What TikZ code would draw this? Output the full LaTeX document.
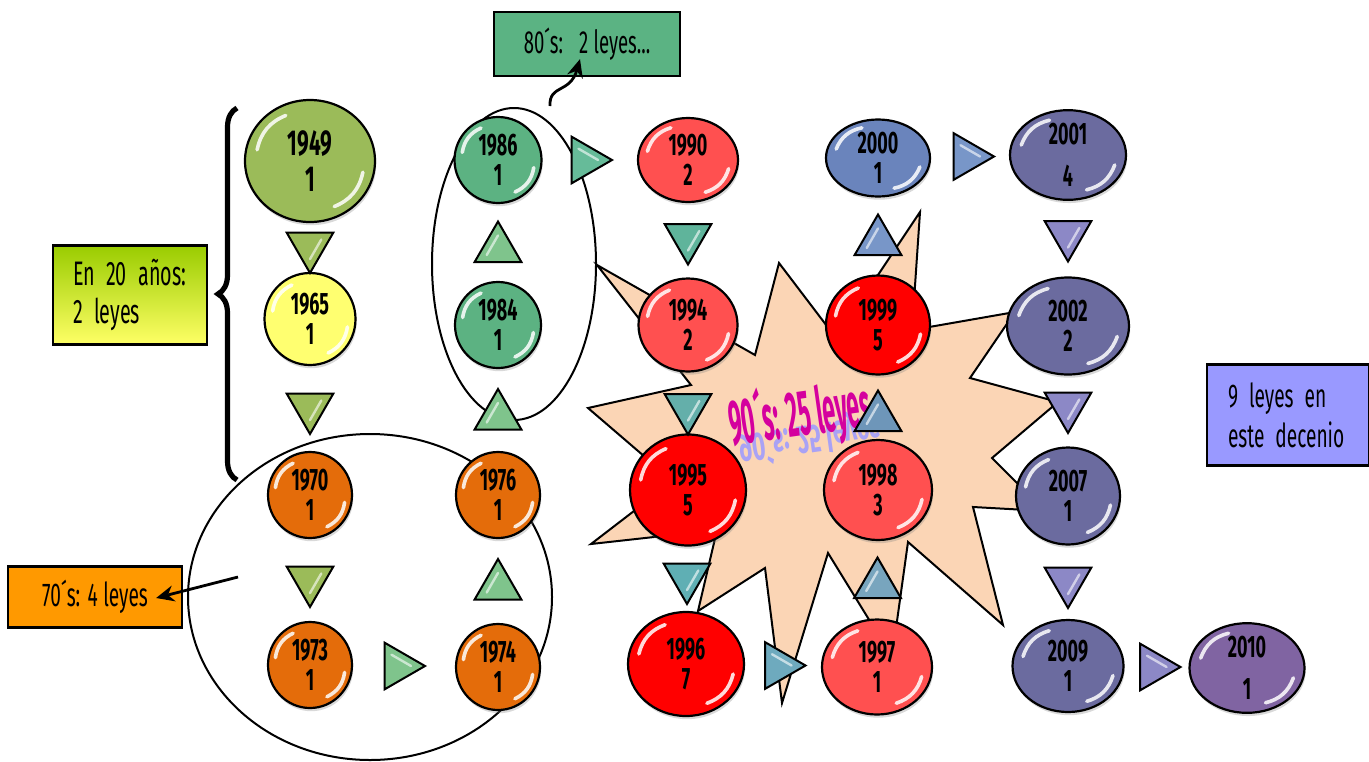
\documentclass[tikz,border=0pt]{standalone}
\usepackage{fontspec}
\usepackage{graphicx}
\setmainfont{Fira Sans}
\newfontfamily\agb[FakeStretch=0.58, WordSpace=0.75]{Fira Sans}
\newfontfamily\agr[FakeStretch=0.58, WordSpace=1.1]{Fira Sans}
\usetikzlibrary{shapes.geometric,shadows,calc,decorations.pathreplacing,arrows.meta}

\definecolor{cOlive}{HTML}{9BBB59}
\definecolor{cYellow}{HTML}{FFFF70}
\definecolor{cOrange}{HTML}{E46C0A}
\definecolor{cGreen}{HTML}{5CB282}
\definecolor{cRedL}{HTML}{FF5050}
\definecolor{cRed}{HTML}{FF0000}
\definecolor{cBlue}{HTML}{6A84BC}
\definecolor{cSlate}{HTML}{6B6B9F}
\definecolor{cPurple}{HTML}{8064A2}
\definecolor{tA}{HTML}{9BBB59}
\definecolor{tB}{HTML}{7FC48C}
\definecolor{tC}{HTML}{66BB99}
\definecolor{tD}{HTML}{5FB49B}
\definecolor{tE}{HTML}{64AFAA}
\definecolor{tF}{HTML}{5FAFB4}
\definecolor{tG}{HTML}{6EAABE}
\definecolor{tH}{HTML}{78A5BE}
\definecolor{tI}{HTML}{6E96B9}
\definecolor{tJ}{HTML}{7896C8}
\definecolor{tK}{HTML}{8C88C6}
\definecolor{bx80}{HTML}{5BB383}
\definecolor{bx70}{HTML}{FF9900}
\definecolor{bx9}{HTML}{9999FF}
\definecolor{bxTop}{HTML}{99CC00}
\definecolor{bxBot}{HTML}{FFFF66}
\definecolor{cStar}{HTML}{FBD5B5}
\definecolor{c90}{HTML}{D4009E}
\definecolor{c90r}{HTML}{A9A2F5}

\tikzset{
  ball/.style={ellipse, draw=black, line width=1.1pt, fill=#1, inner sep=0pt,
    align=center, font=\agb\bfseries\fontsize{15.5}{15}\selectfont,
    drop shadow={opacity=0.3, shadow xshift=0.6pt, shadow yshift=-1.6pt}},
  gloss/.style={white, line width=1.8pt, line cap=round, opacity=0.85},
  tgloss/.style={white, line width=1.2pt, line cap=round, opacity=0.6},
  tri/.style={regular polygon, regular polygon sides=3, draw=black, line width=1pt,
    fill=#1, minimum size=27pt, inner sep=0pt},
  tdown/.style={tri=#1, shape border rotate=180},
  tup/.style={tri=#1},
  tright/.style={tri=#1, shape border rotate=-90},
  lbox/.style={draw=black, line width=1.1pt, inner sep=0pt,
    font=\agr\fontsize{16.5}{20}\selectfont},
  pointer/.style={-{Stealth[length=9pt,width=8pt]}, line width=1.4pt},
}

\begin{document}
\begin{tikzpicture}[x=0.5pt,y=0.5pt]
\useasboundingbox (0,0) rectangle (1369,-761);

% explosion shape
\draw[fill=cStar, line width=1pt, line join=miter]
  (597,-265) -- (755,-355) -- (779,-263) -- (836,-338) -- (920,-212) -- (912,-330)
  -- (1015,-312) -- (970,-378) -- (1058,-402) -- (992,-458) -- (1045,-511)
  -- (973,-507) -- (1003,-625) -- (908,-542) -- (892,-657) -- (828,-553)
  -- (782,-703) -- (765,-568) -- (698,-611) -- (717,-530) -- (591,-544)
  -- (673,-481) -- (588,-408) -- (691,-385) -- cycle;

% grouping ellipses
\draw[line width=1pt] (514,-264) ellipse [x radius=41pt, y radius=78pt];
\draw[line width=1pt] (370,-597) ellipse [x radius=91pt, y radius=81.5pt];

% brace
\draw[decorate, decoration={brace, amplitude=9.5pt}, line width=2.6pt]
  (237,-480) -- (237,-108);

% 90's label
\node[rotate=8, text=c90r] (t90r) at (810,-438)
  {\scalebox{0.36}[-0.62]{\fontsize{32}{32}\selectfont\bfseries 90´s: 25 leyes}};
\node[rotate=8, text=c90] (t90) at (800,-416)
  {\scalebox{0.36}[1]{\fontsize{32}{32}\selectfont\bfseries 90´s: 25 leyes}};

% year nodes
\node[ball=cOlive, minimum width=65pt, minimum height=61pt,
      font=\agb\bfseries\fontsize{18}{18}\selectfont] (n1949) at (310,-161) {1949\\1};
\node[ball=cYellow, minimum width=45.5pt, minimum height=46pt] (n1965) at (310,-319) {1965\\1};
\node[ball=cOrange, minimum width=42pt, minimum height=43pt] (n1970) at (310,-495) {1970\\1};
\node[ball=cOrange, minimum width=42pt, minimum height=43pt] (n1973) at (310,-665) {1973\\1};
\node[ball=cGreen, minimum width=43.5pt, minimum height=43pt] (n1986) at (498,-160) {1986\\1};
\node[ball=cGreen, minimum width=43pt, minimum height=43pt] (n1984) at (498,-325) {1984\\1};
\node[ball=cOrange, minimum width=42pt, minimum height=43pt] (n1976) at (498,-495) {1976\\1};
\node[ball=cOrange, minimum width=42pt, minimum height=43pt] (n1974) at (498,-667) {1974\\1};
\node[ball=cRedL, minimum width=50pt, minimum height=42pt] (n1990) at (688,-160) {1990\\2};
\node[ball=cRedL, minimum width=49.5pt, minimum height=46.5pt] (n1994) at (688,-325) {1994\\2};
\node[ball=cRed, minimum width=58pt, minimum height=55.5pt] (n1995) at (688,-490) {1995\\5};
\node[ball=cRed, minimum width=58pt, minimum height=52pt] (n1996) at (686,-664) {1996\\7};
\node[ball=cBlue, minimum width=52pt, minimum height=38.5pt] (n2000) at (878,-158) {2000\\1};
\node[ball=cRed, minimum width=52pt, minimum height=49.5pt] (n1999) at (878,-325) {1999\\5};
\node[ball=cRedL, minimum width=54pt, minimum height=50pt] (n1998) at (878,-490) {1998\\3};
\node[ball=cRedL, minimum width=55pt, minimum height=47.5pt] (n1997) at (877,-667) {1997\\1};
\node[ball=cSlate, minimum width=58pt, minimum height=44.5pt] (n2001) at (1068,-155) {2001\\[6pt]4};
\node[ball=cSlate, minimum width=61pt, minimum height=48.5pt] (n2002) at (1068,-326) {2002\\2};
\node[ball=cSlate, minimum width=52pt, minimum height=48.5pt] (n2007) at (1068,-496) {2007\\1};
\node[ball=cSlate, minimum width=55.5pt, minimum height=46pt] (n2009) at (1068,-666) {2009\\1};
\node[ball=cPurple, minimum width=57.5pt, minimum height=43.5pt] (n2010) at (1247,-668) {2010\\[6pt]1};

% glossy highlights on the balls
\foreach \nm in {n1949,n1965,n1970,n1973,n1986,n1984,n1976,n1974,n1990,n1994,n1995,n1996,
                 n2000,n1999,n1998,n1997,n2001,n2002,n2007,n2009,n2010}{
  \draw[gloss] ($(\nm.center)!0.82!(\nm.168)$) to[bend left=28] ($(\nm.center)!0.82!(\nm.118)$);
  \draw[gloss] ($(\nm.center)!0.82!(\nm.-12)$) to[bend left=28] ($(\nm.center)!0.82!(\nm.-62)$);
}

% arrow triangles between years
\node[tdown=tA] (a1) at ($(n1949)!0.5!(n1965)+(0,-6)$) {};
\node[tdown=tA] (a2) at ($(n1965)!0.5!(n1970)$) {};
\node[tdown=tA] (a3) at ($(n1970)!0.5!(n1973)$) {};
\node[tright=tB] (a4) at ($(n1973)!0.5!(n1974)+(-6,0)$) {};
\node[tup=tB] (a5) at ($(n1974)!0.5!(n1976)+(0,-5)$) {};
\node[tup=tB] (a6) at ($(n1976)!0.5!(n1984)+(0,-6)$) {};
\node[tup=tB] (a7) at ($(n1984)!0.5!(n1986)+(0,-6)$) {};
\node[tright=tC] (a8) at ($(n1986)!0.5!(n1990)+(-8,0)$) {};
\node[tdown=tD] (a9) at ($(n1990)!0.5!(n1994)+(0,5)$) {};
\node[tdown=tE] (a10) at ($(n1994)!0.5!(n1995)$) {};
\node[tdown=tF] (a11) at ($(n1995)!0.5!(n1996)$) {};
\node[tright=tG] (a12) at ($(n1996)!0.5!(n1997)+(-3,0)$) {};
\node[tup=tH] (a13) at ($(n1997)!0.5!(n1998)+(0,-6)$) {};
\node[tup=tI] (a14) at ($(n1998)!0.5!(n1999)+(0,-10)$) {};
\node[tup=tJ] (a15) at ($(n1999)!0.5!(n2000)$) {};
\node[tright=tJ] (a16) at ($(n2000)!0.5!(n2001)+(-6,0)$) {};
\node[tdown=tK] (a17) at ($(n2001)!0.5!(n2002)+(0,6)$) {};
\node[tdown=tK] (a18) at ($(n2002)!0.5!(n2007)+(0,5)$) {};
\node[tdown=tK] (a19) at ($(n2007)!0.5!(n2009)$) {};
\node[tright=tK] (a20) at ($(n2009)!0.5!(n2010)+(-4,0)$) {};

% small sheen on the triangles
\foreach \tn in {a1,a2,a3,a4,a5,a6,a7,a8,a9,a10,a11,a12,a13,a14,a15,a16,a17,a18,a19,a20}{
  \draw[tgloss] ($(\tn.center)!0.45!(\tn.corner 1)$) -- ($(\tn.center)!0.45!(\tn.corner 2)$);
}

% label boxes
\node[lbox, fill=bx80, minimum width=93pt, minimum height=32pt,
      font=\agr\fontsize{16}{18}\selectfont] (l80) at (587,-44) {80´s:\enspace 2 leyes...};
\node[lbox, top color=bxTop, bottom color=bxBot, draw=black,
      minimum height=49.5pt, text width=57pt, inner xsep=10pt, align=left,
      font=\agr\fontsize{17}{19}\selectfont] (l20) at (130,-295) {En 20 años:\\2 leyes};
\node[lbox, fill=bx70, minimum width=87pt, minimum height=30.5pt] (l70) at (95,-597) {70´s: 4 leyes};
\node[lbox, fill=bx9, minimum height=50.5pt, text width=60pt, inner xsep=10.5pt, align=left]
      (l9) at (1288,-415) {9 leyes en\\este decenio};

% pointers
\coordinate (p80) at (550,-106);
\draw[pointer] (p80) .. controls (549,-84) and (570,-94) .. ([xshift=-3.5pt,yshift=9pt]l80.south);
\coordinate (p70) at (238,-577);
\draw[pointer] (p70) -- ([xshift=-13.5pt,yshift=-0.5pt]l70.east);
\end{tikzpicture}
\end{document}
